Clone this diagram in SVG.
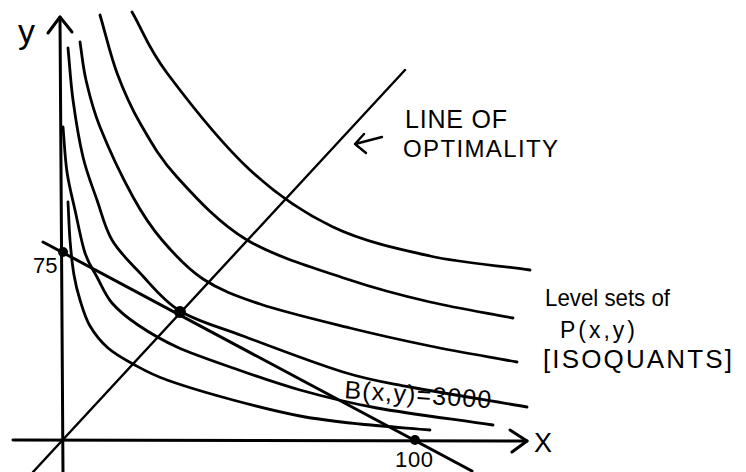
<svg xmlns="http://www.w3.org/2000/svg" width="746" height="472" viewBox="0 0 746 472">
<style>
.ln{fill:none;stroke:#000;stroke-linecap:round;stroke-linejoin:round}
.ax{stroke-width:3}
.cv{stroke-width:2.8}
.st{stroke-width:2.4}
.dot{fill:#000}
text{font-family:"Liberation Sans","DejaVu Sans",sans-serif;fill:#000}
</style>
<rect width="746" height="472" fill="#fff"/>
<g id="axes">
<path class="ln ax" d="M60,17 L63,472"/>
<path class="ln ax" d="M48,33 L60,17 L72,32"/>
<path class="ln ax" d="M13,440 L527,441"/>
<path class="ln ax" d="M510,430 L527,441 L512,452"/>
<text x="18" y="43" font-size="34">y</text>
<text x="534" y="452" font-size="27">X</text>
<text x="33" y="273" font-size="22">75</text>
<text x="395" y="467" font-size="22" textLength="38" lengthAdjust="spacing">100</text>
</g>
<g id="isoquants">
<path id="curve-1" class="ln cv" d="M132,12 C143.7,32.3 147.3,46.7 167,73 C186.7,99.3 222.3,144.3 250,170 C277.7,195.7 303,212.7 333,227 C363,241.3 397.2,248.8 430,256 C462.8,263.2 496.7,265.3 530,270"/>
<path id="curve-2" class="ln cv" d="M100,15 C105.7,34.3 110.3,55 117,73 C123.7,91 130,105.7 140,123 C150,140.3 159.2,157.5 177,177 C194.8,196.5 218.2,222.8 247,240 C275.8,257.2 319.5,269.7 350,280 C380.5,290.3 402.8,295.7 430,302 C457.2,308.3 485.3,312.7 513,318"/>
<path id="curve-3" class="ln cv" d="M80,42 C82,54.7 82.7,65.8 86,80 C89.3,94.2 92.2,107.5 100,127 C107.8,146.5 122.7,178.2 133,197 C143.3,215.8 150.3,226.3 162,240 C173.7,253.7 186.7,268.3 203,279 C219.3,289.7 235.5,295.8 260,304 C284.5,312.2 321.7,321 350,328 C378.3,335 402.2,340.3 430,346 C457.8,351.7 488,356.7 517,362"/>
<path id="curve-4" class="ln cv" d="M68,48 C69.7,65.3 70.5,81.8 73,100 C75.5,118.2 79,140.3 83,157 C87,173.7 92.2,186.2 97,200 C101.8,213.8 104.8,227.8 112,240 C119.2,252.2 128.7,261.2 140,273 C151.3,284.8 162.8,300.5 180,311 C197.2,321.5 215.8,325.8 243,336 C270.2,346.2 315.2,363.5 343,372 C370.8,380.5 379.3,381.2 410,387 C440.7,392.8 488,400.3 527,407"/>
<path id="curve-5" class="ln cv" d="M63,127 C64.3,142 65,158.2 67,172 C69,185.8 72,196.5 75,210 C78,223.5 81.3,241.8 85,253 C88.7,264.2 92.5,268.7 97,277 C101.5,285.3 105.2,295 112,303 C118.8,311 127.2,317.7 138,325 C148.8,332.3 161.2,339.8 177,347 C192.8,354.2 212.5,360.8 233,368 C253.5,375.2 276,383.3 300,390 C324,396.7 344.8,402.2 377,408 C409.2,413.8 454.3,419.3 493,425"/>
<path id="curve-6" class="ln cv" d="M68,202 C68.7,214.7 69,227.8 70,240 C71,252.2 72.3,265 74,275 C75.7,285 77.3,291.5 80,300 C82.7,308.5 85.3,318 90,326 C94.7,334 100.8,341.7 108,348 C115.2,354.3 123.2,358.7 133,364 C142.8,369.3 150.3,374 167,380 C183.7,386 210.8,394 233,400 C255.2,406 278.8,412 300,416 C321.2,420 338.3,421.7 360,424 C381.7,426.3 406.7,428 430,430"/>
</g>
<g id="connectors">
<path id="line-of-optimality" class="ln st" d="M33,472 L405,70"/>
<path id="budget-line" class="ln ax" d="M43,242 L472,471"/>
<path id="pointer-arrow" class="ln st" d="M382,137 L355,144 M364,134 L355,144 L366,153"/>
</g>
<g id="points">
<circle class="dot" cx="63" cy="252" r="5"/>
<circle class="dot" cx="180" cy="312" r="6"/>
<circle class="dot" cx="415" cy="440" r="5"/>
</g>
<g id="labels">
<text x="405" y="128" font-size="25" textLength="102" lengthAdjust="spacing">LINE OF</text>
<text x="403" y="157" font-size="24" textLength="155" lengthAdjust="spacing">OPTIMALITY</text>
<text x="545" y="306" font-size="24" textLength="125" lengthAdjust="spacingAndGlyphs">Level sets of</text>
<text x="560" y="338" font-size="23" textLength="75" lengthAdjust="spacing">P(x,y)</text>
<text x="543" y="368" font-size="26" textLength="189" lengthAdjust="spacing">[ISOQUANTS]</text>
<text x="344" y="398" font-size="25" textLength="147" lengthAdjust="spacing" transform="rotate(4 344 398)">B(x,y)=3000</text>
</g>
</svg>
